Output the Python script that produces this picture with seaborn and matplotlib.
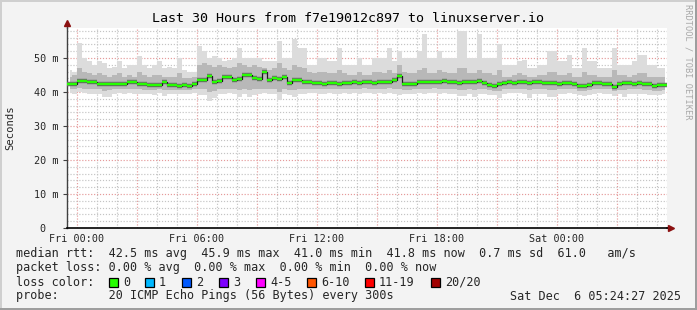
import numpy as np
import matplotlib
matplotlib.use("Agg")
import matplotlib.pyplot as plt
from matplotlib.patches import Rectangle
import seaborn as sns
import pandas as pd

# ---------------- data (ms, 15-minute samples over 30 hours) ----------------
median_ms = [42.4, 42.4, 43.3, 43.3, 43.0, 43.0, 42.4, 42.4, 42.3, 42.4,
             42.5, 42.4, 42.8, 42.8, 42.4, 42.3, 42.1, 42.0, 42.2, 42.9,
             42.1, 42.0, 41.9, 42.0, 41.8, 42.3, 43.4, 43.6, 44.6, 43.0,
             43.2, 44.5, 44.4, 43.5, 43.8, 45.1, 45.0, 44.0, 43.8, 45.8,
             43.6, 44.2, 43.8, 44.3, 42.7, 43.5, 43.6, 42.9, 42.8, 42.6,
             42.6, 42.5, 42.7, 42.6, 42.5, 42.7, 42.6, 42.8, 42.7, 42.9,
             42.8, 42.7, 42.9, 42.8, 43.0, 43.4, 44.6, 42.4, 42.3, 42.5,
             42.8, 42.8, 42.9, 43.0, 43.0, 43.3, 42.9, 42.8, 42.7, 42.9,
             42.8, 42.8, 43.1, 42.6, 42.2, 41.8, 42.3, 42.7, 42.8, 42.7,
             42.9, 42.8, 42.7, 42.8, 42.9, 42.7, 42.6, 42.7, 42.5, 42.6,
             42.7, 42.5, 41.9, 41.8, 42.0, 42.6, 42.7, 42.5, 42.4, 41.5,
             42.3, 42.6, 42.7, 42.5, 42.6, 42.4, 42.3, 41.9, 42.0, 42.1]

ping_max = [46.5, 46.0, 54.5, 50.0, 49.0, 48.0, 49.0, 48.5, 47.0, 47.5,
            49.0, 47.0, 48.0, 48.0, 50.5, 48.0, 47.0, 48.0, 49.0, 47.0,
            47.5, 47.0, 50.0, 46.5, 46.0, 46.0, 53.5, 52.0, 50.0, 50.5,
            50.0, 49.0, 49.5, 50.0, 53.0, 50.0, 50.0, 50.0, 50.0, 49.0,
            49.0, 49.0, 55.0, 50.0, 50.0, 55.5, 53.0, 53.0, 48.0, 48.0,
            50.0, 50.0, 49.0, 49.0, 53.0, 48.0, 48.0, 48.0, 50.0, 48.0,
            48.0, 50.0, 50.0, 50.0, 53.0, 49.0, 52.0, 50.0, 50.0, 50.0,
            52.0, 57.0, 50.0, 50.0, 52.0, 50.0, 50.0, 50.0, 58.0, 58.0,
            50.0, 50.0, 57.0, 50.0, 50.0, 50.0, 54.0, 48.0, 48.0, 48.0,
            49.0, 49.5, 47.0, 47.0, 48.0, 48.0, 52.0, 52.0, 49.0, 49.0,
            51.0, 47.0, 47.0, 53.0, 49.0, 49.0, 47.0, 47.0, 47.0, 53.0,
            48.0, 48.0, 48.0, 49.0, 51.0, 51.0, 48.0, 48.0, 47.0, 47.0]

ping_hi = [44.5, 45.0, 47.0, 46.0, 45.5, 45.0, 45.5, 45.0, 44.5, 45.0,
           45.5, 44.5, 45.0, 44.5, 46.0, 45.0, 44.5, 45.0, 45.0, 44.5,
           44.5, 44.5, 45.5, 44.0, 44.0, 44.5, 48.0, 48.5, 48.0, 47.5,
           48.0, 47.5, 47.0, 47.5, 48.5, 48.0, 47.5, 48.0, 47.5, 47.0,
           46.5, 47.0, 48.5, 47.0, 46.5, 48.0, 47.5, 47.0, 46.0, 45.5,
           46.0, 46.0, 45.5, 45.5, 46.5, 45.5, 45.0, 45.0, 46.0, 45.0,
           45.0, 46.0, 46.0, 45.5, 46.5, 45.5, 48.0, 46.0, 45.5, 45.5,
           46.5, 47.0, 45.5, 45.5, 46.5, 46.0, 45.5, 45.5, 47.0, 47.0,
           45.5, 45.5, 46.5, 45.5, 45.5, 45.0, 46.5, 44.5, 44.5, 45.0,
           45.5, 45.0, 44.5, 44.5, 45.0, 45.0, 46.0, 46.0, 45.0, 45.0,
           45.5, 44.5, 44.5, 46.0, 45.0, 45.0, 44.5, 44.5, 44.5, 46.5,
           45.0, 45.0, 44.5, 45.0, 45.5, 45.5, 44.5, 44.5, 44.5, 44.5]

ping_lo = [41.0, 40.8, 41.2, 41.0, 41.0, 40.8, 40.8, 40.3, 40.5, 41.0,
           41.0, 40.8, 41.0, 40.8, 40.8, 40.7, 40.7, 40.6, 40.8, 40.5,
           40.6, 40.7, 40.6, 40.6, 40.5, 40.8, 41.0, 40.8, 40.0, 40.3,
           40.8, 41.0, 41.0, 40.8, 40.5, 41.0, 40.6, 40.8, 40.8, 41.0,
           40.8, 40.8, 40.0, 40.8, 40.6, 40.5, 40.8, 40.8, 41.0, 41.0,
           40.9, 40.8, 41.0, 40.9, 40.8, 41.0, 40.9, 41.0, 40.9, 41.1,
           41.0, 40.9, 41.0, 40.9, 41.1, 41.0, 40.8, 40.6, 40.7, 40.9,
           41.0, 40.9, 41.0, 41.1, 41.0, 41.0, 40.9, 40.8, 40.5, 40.6,
           40.9, 40.5, 40.8, 40.8, 40.5, 40.3, 40.4, 40.9, 41.0, 41.0,
           41.0, 40.9, 40.6, 40.8, 41.0, 40.9, 40.6, 40.6, 40.8, 40.9,
           41.0, 40.8, 40.4, 40.3, 40.5, 40.9, 41.0, 40.9, 40.8, 40.2,
           40.6, 40.7, 40.9, 40.8, 40.9, 40.7, 40.6, 40.4, 40.4, 40.6]

ping_min = [39.8, 39.5, 40.0, 39.8, 39.5, 39.5, 39.3, 38.5, 38.6, 39.5,
            39.6, 39.4, 39.7, 39.5, 39.4, 39.5, 39.3, 39.2, 39.6, 38.9,
            39.3, 39.5, 39.4, 39.5, 39.3, 39.6, 39.2, 39.0, 37.5, 38.2,
            39.3, 39.5, 39.6, 39.4, 38.5, 39.5, 38.5, 39.2, 39.4, 39.6,
            39.4, 39.3, 37.6, 39.3, 39.0, 38.5, 39.4, 39.5, 39.6, 39.7,
            39.5, 39.4, 39.6, 39.5, 39.3, 39.6, 39.5, 39.6, 39.4, 39.7,
            39.6, 39.5, 39.6, 39.4, 39.6, 39.5, 39.2, 39.3, 39.4, 39.5,
            39.6, 39.5, 39.6, 39.7, 39.5, 39.6, 39.5, 39.4, 38.9, 38.8,
            39.5, 38.5, 39.3, 39.4, 39.2, 39.0, 38.2, 39.5, 39.6, 39.6,
            39.6, 39.4, 38.2, 39.3, 39.5, 39.5, 38.5, 38.6, 39.4, 39.5,
            39.6, 39.4, 39.0, 38.9, 39.2, 39.5, 39.6, 39.5, 39.4, 38.9,
            39.3, 38.5, 39.5, 39.4, 39.5, 39.3, 39.2, 39.0, 39.1, 39.3]

tick_labels = ["Fri 00:00", "Fri 06:00", "Fri 12:00", "Fri 18:00", "Sat 00:00"]
y_ticks = [0, 10, 20, 30, 40, 50]
y_tick_labels = ["0  ", "10 m", "20 m", "30 m", "40 m", "50 m"]

loss_labels = ["0", "1", "2", "3", "4-5", "6-10", "11-19", "20/20"]
loss_colors = ["#26ff00", "#00b8ff", "#0059ff", "#7e00ff", "#ff00ff",
               "#ff5500", "#ff0000", "#a10000"]

title = "Last 30 Hours from f7e19012c897 to linuxserver.io"
stats_rtt = "median rtt:  42.5 ms avg  45.9 ms max  41.0 ms min  41.8 ms now  0.7 ms sd  61.0   am/s"
stats_loss = "packet loss: 0.00 % avg  0.00 % max  0.00 % min  0.00 % now"
probe_txt = "probe:       20 ICMP Echo Pings (56 Bytes) every 300s"
date_txt = "Sat Dec  6 05:24:27 2025"

# ---------------- layout ----------------
W, H = 697, 310
step_h = 0.25             # sample step in hours
span_h = 30.0
first_midnight = 0.5      # Fri 00:00, hours after window start

t = (np.arange(len(median_ms)) + 0.5) * step_h
df = pd.DataFrame({"t": t, "median": median_ms})

sns.set_theme(style="white")
plt.rcParams["font.family"] = ["DejaVu Sans Mono", "DejaVu Sans"]
plt.rcParams["axes.unicode_minus"] = False

fig = plt.figure(figsize=(W / 100, H / 100), dpi=100, facecolor="#f3f3f3")

def px(x, y):
    return x / W, 1 - y / H

# 3-D frame
fig.add_artist(Rectangle((0, 0), 1, 2 / H, transform=fig.transFigure, color="#9e9e9e", lw=0))
fig.add_artist(Rectangle((1 - 2 / W, 0), 2 / W, 1, transform=fig.transFigure, color="#9e9e9e", lw=0))
fig.add_artist(Rectangle((0, 1 - 2 / H), 1 - 2 / W, 2 / H, transform=fig.transFigure, color="#cfcfcf", lw=0))
fig.add_artist(Rectangle((0, 2 / H), 2 / W, 1 - 4 / H, transform=fig.transFigure, color="#cfcfcf", lw=0))

ax_left, ax_right, ax_top, ax_bot = 67, 667, 28, 228
ax = fig.add_axes([ax_left / W, 1 - ax_bot / H, (ax_right - ax_left) / W, (ax_bot - ax_top) / H])
ax.set_facecolor("white")
ymax = (ax_bot - ax_top) / 3.4
ax.set_xlim(0, span_h)
ax.set_ylim(0, ymax)

# grid
for h in np.arange(first_midnight, span_h, 1.0):
    major = abs(((h - first_midnight) / 3) - round((h - first_midnight) / 3)) < 1e-6
    ax.axvline(h, color="#e59a9a" if major else "#c4c4c4", lw=0.85,
               ls=(0, (1, 1.5)), zorder=0)
for v in np.arange(2, ymax, 2):
    major = v % 10 == 0
    ax.axhline(v, color="#e59a9a" if major else "#c4c4c4", lw=0.85,
               ls=(0, (1, 1.5)), zorder=0)

# smoke
ax.fill_between(t, ping_min, ping_max, step="mid", color="#dcdcdc", lw=0, zorder=1)
ax.fill_between(t, ping_lo, ping_hi, step="mid", color="#b8b8b8", lw=0, zorder=2)

# dark core around the median, thin dark transitions, loss-coloured median
ax.hlines(median_ms, t - step_h / 2, t + step_h / 2, color="#6e6e6e", lw=3.2, zorder=3)
sns.lineplot(data=df, x="t", y="median", ax=ax, drawstyle="steps-mid",
             color="#1a1a1a", lw=0.9, zorder=3, legend=False)
ax.hlines(median_ms, t - step_h / 2, t + step_h / 2, color=loss_colors[0], lw=1.7, zorder=4)

# axes styling
for s in ["top", "right"]:
    ax.spines[s].set_visible(False)
ax.spines["left"].set_color("#404040")
ax.spines["bottom"].set_color("#000000")
ax.spines["left"].set_linewidth(1.0)
ax.spines["bottom"].set_linewidth(1.2)
ax.set_xticks([first_midnight + 6 * k for k in range(len(tick_labels))])
ax.set_xticklabels(tick_labels, fontsize=7.3)
ax.set_yticks(y_ticks)
ax.set_yticklabels(y_tick_labels, fontsize=7.3)
ax.tick_params(axis="both", length=3, width=0.8, color="#404040", pad=3, direction="out")
ax.tick_params(axis="x", length=0, pad=4)
ax.tick_params(axis="both", which="both", bottom=True, left=True)
ax.set_xlabel("")
ax.set_ylabel("")

# arrows
ax.plot([0, 0], [1.0, 1.02], transform=ax.transAxes, color="#404040", lw=1.0, clip_on=False)
ax.plot([0], [1.0 + 5 / 200], transform=ax.transAxes, marker="^", ms=4.5,
        color="#8b1010", clip_on=False, zorder=6)
ax.plot([1.0, 1.006], [0, 0], transform=ax.transAxes, color="#000000", lw=1.2, clip_on=False)
ax.plot([1.006], [0], transform=ax.transAxes, marker=">", ms=4.5,
        color="#8b1010", clip_on=False, zorder=6)

# texts
fig.text(*px(348, 19), title, ha="center", va="center", fontsize=9.6, color="black")
fig.text(*px(10, 128), "Seconds", rotation=90, ha="center", va="center", fontsize=7.6)
fig.text(*px(688, 4), "RRDTOOL / TOBI OETIKER", rotation=270, ha="center", va="top",
         fontsize=6.2, color="#a8a8a8")

lx = 16
fs = 8.5
fig.text(*px(lx, 254), stats_rtt, ha="left", va="center", fontsize=fs)
fig.text(*px(lx, 268), stats_loss, ha="left", va="center", fontsize=fs)
fig.text(*px(lx, 282), "loss color:", ha="left", va="center", fontsize=fs)
box_x = [109, 145, 182, 219, 256, 307, 365, 431]
for bx, lab, col in zip(box_x, loss_labels, loss_colors):
    fig.add_artist(Rectangle((bx / W, 1 - 287 / H), 9 / W, 9 / H,
                             transform=fig.transFigure, facecolor=col,
                             edgecolor="black", lw=0.9))
    fig.text(*px(bx + 14, 282), lab, ha="left", va="center", fontsize=fs)
fig.text(*px(lx, 296), probe_txt, ha="left", va="center", fontsize=fs)
fig.text(*px(681, 296), date_txt, ha="right", va="center", fontsize=fs)

fig.savefig("out.png", dpi=100, facecolor=fig.get_facecolor())
